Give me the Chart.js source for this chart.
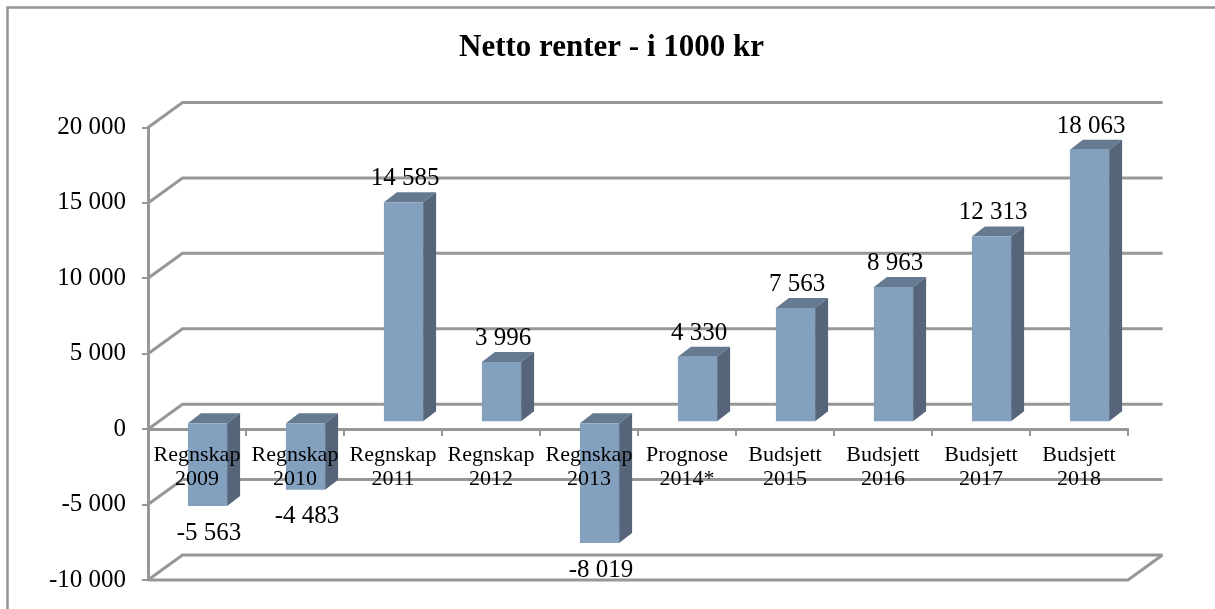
<!DOCTYPE html>
<html><head><meta charset="utf-8">
<style>html,body{margin:0;padding:0;background:#fff;width:1215px;height:609px;overflow:hidden}canvas{display:block}</style>
<script src="https://cdn.jsdelivr.net/npm/chart.js@4/dist/chart.umd.min.js"></script>
</head><body><canvas id="c" width="1215" height="611"></canvas>
<script>
const titleText = 'Netto renter - i 1000 kr';
const categories = [['Regnskap','2009'],['Regnskap','2010'],['Regnskap','2011'],['Regnskap','2012'],['Regnskap','2013'],['Prognose','2014*'],['Budsjett','2015'],['Budsjett','2016'],['Budsjett','2017'],['Budsjett','2018']];
const values = [-5563,-4483,14585,3996,-8019,4330,7563,8963,12313,18063];
const fmt = v => { const s = String(Math.abs(v)).replace(/\B(?=(\d{3})+$)/g,' '); return (v<0?'-':'')+s; };
const GRID='#979797', FRONT='#84a0bf', SIDE='#566579', TOP='#657a90';
const WALL={dx:34.5,dy:-25}, BAR={dx:10.5,dy:-7}, DEPTH={dx:13,dy:-10};
const TITLE_SHIFT=47.5;
const SERIF='"Liberation Serif", serif';

const scene={
  id:'scene',
  afterLayout(ch){ ch.titleBlock.left+=TITLE_SHIFT; ch.titleBlock.right+=TITLE_SHIFT; },
  beforeDraw(ch){
    const c=ch.ctx; c.save();
    c.fillStyle='#fff'; c.fillRect(0,0,ch.width,ch.height);
    c.strokeStyle='#949494'; c.lineWidth=2.5; c.beginPath();
    c.moveTo(7.5,ch.height); c.lineTo(7.5,7.5); c.lineTo(ch.width,7.5); c.stroke(); c.restore();
  },
  beforeDatasetsDraw(ch){
    const c=ch.ctx,{left,right}=ch.chartArea,ys=ch.scales.y; c.save();
    c.strokeStyle=GRID; c.lineWidth=3; c.lineJoin='miter';
    ys.ticks.forEach(t=>{const y=ys.getPixelForValue(t.value);
      c.beginPath(); c.moveTo(left,y); c.lineTo(left+WALL.dx,y+WALL.dy); c.lineTo(right+WALL.dx,y+WALL.dy); c.stroke();});
    const y=ys.getPixelForValue(ys.min);
    c.beginPath(); c.moveTo(left,y); c.lineTo(right,y); c.lineTo(right+WALL.dx,y+WALL.dy); c.stroke();
    c.restore();
  },
  beforeDatasetDraw(ch,args){
    const c=ch.ctx; c.save();
    args.meta.data.forEach(b=>{
      const l=b.x-b.width/2+BAR.dx,r=b.x+b.width/2+BAR.dx;
      const t=Math.min(b.y,b.base)+BAR.dy,bo=Math.max(b.y,b.base)+BAR.dy;
      c.fillStyle=TOP; c.beginPath(); c.moveTo(l,t); c.lineTo(l+DEPTH.dx,t+DEPTH.dy); c.lineTo(r+DEPTH.dx,t+DEPTH.dy); c.lineTo(r,t); c.closePath(); c.fill();
      c.fillStyle=SIDE; c.beginPath(); c.moveTo(r,t); c.lineTo(r+DEPTH.dx,t+DEPTH.dy); c.lineTo(r+DEPTH.dx,bo+DEPTH.dy); c.lineTo(r,bo); c.closePath(); c.fill();
    });
    c.restore(); c.save(); c.translate(BAR.dx,BAR.dy);
  },
  afterDatasetDraw(ch){ ch.ctx.restore(); },
  afterDraw(ch){
    const c=ch.ctx,m=ch.getDatasetMeta(0); c.save();
    c.fillStyle='#000'; c.font='25px '+SERIF; c.textAlign='center'; c.textBaseline='alphabetic';
    m.data.forEach((b,i)=>{const v=values[i],x=b.x+BAR.dx+1.5;
      const y=v>=0? b.y+BAR.dy-17 : b.y+BAR.dy+33.5;
      c.fillText(fmt(v),x,y);});
    c.restore();
  }
};

new Chart(document.getElementById('c'),{
  type:'bar',
  data:{labels:categories,datasets:[{data:values,backgroundColor:FRONT,borderWidth:0,categoryPercentage:1,barPercentage:0.4,clip:false}]},
  options:{
    responsive:false,animation:false,
    layout:{padding:{left:0,right:87,top:0,bottom:30}},
    plugins:{legend:{display:false},tooltip:{enabled:false},
      title:{display:true,text:titleText,color:'#000',font:{family:SERIF,size:31,weight:'bold'},padding:{top:29,bottom:61.3}}},
    scales:{
      x:{position:{y:0},afterFit(s){s.paddingTop=0;s.paddingBottom=0;},
         grid:{drawOnChartArea:false,drawTicks:true,tickLength:5,color:GRID,lineWidth:2},
         border:{display:true,color:GRID,width:3},
         ticks:{z:1,color:'#000',font:{family:SERIF,size:22,lineHeight:1.09},padding:9,maxRotation:0,minRotation:0,autoSkip:false}},
      y:{min:-10000,max:20000,afterFit(s){s.width=148;},
         grid:{drawOnChartArea:false,drawTicks:true,tickLength:6,color:GRID,lineWidth:2},
         border:{display:true,color:GRID,width:3},
         ticks:{stepSize:5000,color:'#000',font:{family:SERIF,size:25},padding:16,callback:v=>fmt(v)}}
    }
  },
  plugins:[scene]
});
</script></body></html>
